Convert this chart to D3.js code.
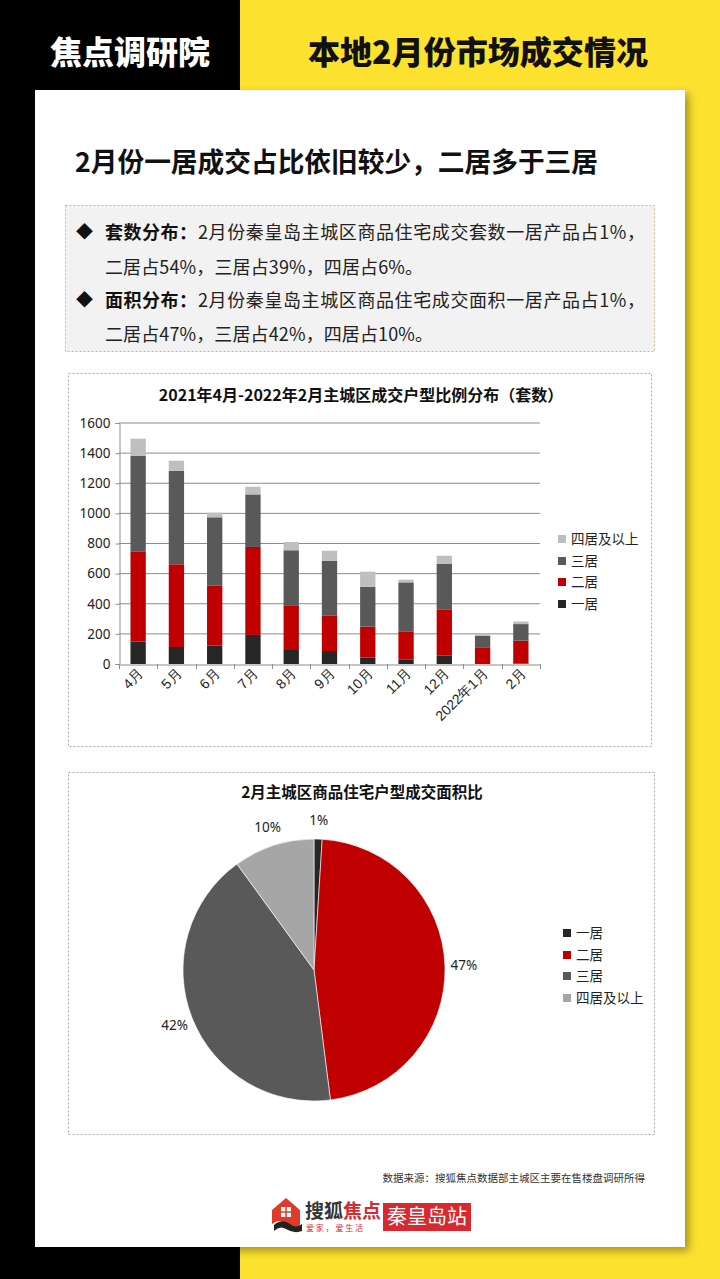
<!DOCTYPE html>
<html><head><meta charset="utf-8">
<script src="https://cdn.jsdelivr.net/npm/d3@7"></script>
<style>
html,body{margin:0;padding:0;background:#fff;}
svg{display:block;font-family:"Noto Sans CJK SC","Noto Sans",sans-serif;}
</style></head>
<body>
<svg id="c" width="720" height="1279"></svg>
<script>
// ---- data ----
const months = ["4月","5月","6月","7月","8月","9月","10月","11月","12月","2022年1月","2月"];
const seriesNames = ["一居","二居","三居","四居及以上"];
const oneRoom   = [150,113,122,193,93,86,42,31,55,0,3];
const twoRoom   = [598,549,400,584,297,237,206,186,308,111,152];
const threeRoom = [635,621,452,349,365,363,265,325,303,77,110];
const fourRoom  = [113,67,31,51,55,66,100,18,53,9,17];
const yTicks = [0,200,400,600,800,1000,1200,1400,1600];
const pieLabels = ["一居","二居","三居","四居及以上"];
const pieValues = [1,47,42,10];
const barColors = ["#262626","#c00000","#595959","#bfbfbf"];
const pieColors = ["#262626","#c00000","#595959","#a6a6a6"];

const svg = d3.select("#c");
const YEL = "#fde12f";

// ---- background frame ----
svg.append("rect").attr("x",0).attr("y",0).attr("width",720).attr("height",1279).attr("fill",YEL);
svg.append("rect").attr("x",0).attr("y",0).attr("width",240).attr("height",1279).attr("fill","#000");
svg.append("rect").attr("x",0).attr("y",0).attr("width",720).attr("height",90).attr("fill",YEL);
svg.append("rect").attr("x",0).attr("y",0).attr("width",240).attr("height",90).attr("fill","#000");
// card shadow
const defs = svg.append("defs");
const f = defs.append("filter").attr("id","sh").attr("x","-5%").attr("y","-5%").attr("width","115%").attr("height","115%");
f.append("feGaussianBlur").attr("in","SourceAlpha").attr("stdDeviation",4);
f.append("feOffset").attr("dx",4).attr("dy",4).attr("result","o");
f.append("feComponentTransfer").append("feFuncA").attr("type","linear").attr("slope",0.35);
const fm = f.append("feMerge"); fm.append("feMergeNode"); fm.append("feMergeNode").attr("in","SourceGraphic");
svg.append("rect").attr("x",35).attr("y",90).attr("width",650).attr("height",1157).attr("fill","#fff").attr("filter","url(#sh)");

// header texts
svg.append("text").attr("x",50).attr("y",64).attr("font-size",32).attr("font-weight",900).attr("fill","#fff")
  .attr("textLength",160).attr("lengthAdjust","spacingAndGlyphs").text("焦点调研院");
svg.append("text").attr("x",308).attr("y",64).attr("font-size",32).attr("font-weight",900).attr("fill","#111")
  .attr("textLength",340).attr("lengthAdjust","spacingAndGlyphs").text("本地2月份市场成交情况");

// card title
svg.append("text").attr("x",75).attr("y",172).attr("font-size",27).attr("font-weight",700).attr("fill","#111")
  .attr("textLength",523).attr("lengthAdjust","spacingAndGlyphs").text("2月份一居成交占比依旧较少，二居多于三居");

// summary box
svg.append("rect").attr("x",65.5).attr("y",205.5).attr("width",589).attr("height",146).attr("fill","#f2f2f2")
  .attr("stroke","#d8b48e").attr("stroke-dasharray","2,2");
const lines = [
  {y:239, bullet:true, b:"套数分布：", t:"2月份秦皇岛主城区商品住宅成交套数一居产品占1%，", len:447},
  {y:274, bullet:false, b:"", t:"二居占54%，三居占39%，四居占6%。", len:318},
  {y:307, bullet:true, b:"面积分布：", t:"2月份秦皇岛主城区商品住宅成交面积一居产品占1%，", len:447},
  {y:341, bullet:false, b:"", t:"二居占47%，三居占42%，四居占10%。", len:328}
];
lines.forEach(l=>{
  if(l.bullet) svg.append("text").attr("x",76).attr("y",l.y-1).attr("font-size",17).attr("fill","#111").text("◆");
  if(l.b){
    svg.append("text").attr("x",105).attr("y",l.y).attr("font-size",18).attr("font-weight",700).attr("fill","#111")
      .attr("textLength",92).attr("lengthAdjust","spacing").text(l.b);
    svg.append("text").attr("x",198).attr("y",l.y).attr("font-size",18).attr("fill","#222")
      .attr("textLength",l.len).attr("lengthAdjust","spacing").text(l.t);
  } else {
    svg.append("text").attr("x",105).attr("y",l.y).attr("font-size",18).attr("fill","#222")
      .attr("textLength",l.len).attr("lengthAdjust","spacing").text(l.t);
  }
});

// ---- bar chart ----
svg.append("rect").attr("x",68.5).attr("y",373.5).attr("width",583).attr("height",373).attr("fill","#fff")
  .attr("stroke","#a6a6a6").attr("stroke-dasharray","2,2");
svg.append("text").attr("x",361).attr("y",401).attr("text-anchor","middle").attr("font-size",16).attr("font-weight",700)
  .attr("fill","#111").text("2021年4月-2022年2月主城区成交户型比例分布（套数）");

const x = d3.scaleBand().domain(months).range([119,540]).padding(0);
const y = d3.scaleLinear().domain([0,1600]).range([664,423]);
const g = svg.append("g");
// gridlines
g.selectAll("line.grid").data(yTicks.filter(v=>v>0)).join("line")
  .attr("x1",119).attr("x2",540).attr("y1",d=>y(d)).attr("y2",d=>y(d)).attr("stroke","#8c8c8c").attr("stroke-width",1);
// stacks
const rows = months.map((m,i)=>({m, "一居":oneRoom[i], "二居":twoRoom[i], "三居":threeRoom[i], "四居及以上":fourRoom[i]}));
const stack = d3.stack().keys(seriesNames)(rows);
const bw = x.bandwidth()*0.4;
stack.forEach((s,si)=>{
  g.append("g").selectAll("rect").data(s).join("rect")
    .attr("x",d=>x(d.data.m)+(x.bandwidth()-bw)/2).attr("width",bw)
    .attr("y",d=>y(d[1])).attr("height",d=>Math.max(0,y(d[0])-y(d[1])))
    .attr("fill",barColors[si]);
});
// y axis
const ya = d3.axisLeft(y).tickValues(yTicks).tickSize(4).tickPadding(5).tickFormat(d3.format("d"));
const yg = svg.append("g").attr("transform","translate(119.5,0)").call(ya);
yg.select(".domain").attr("stroke","#8c8c8c");
yg.selectAll(".tick line").attr("stroke","#8c8c8c");
yg.selectAll("text").attr("font-size",13.5).attr("fill","#222").attr("font-family","'Noto Sans',sans-serif");
// x axis
const xa = d3.axisBottom(x).tickSize(0).tickPadding(0);
const xg = svg.append("g").attr("transform","translate(0,664.5)").call(xa);
xg.select(".domain").attr("stroke","#8c8c8c");
xg.selectAll("text").attr("font-size",14).attr("fill","#222").attr("text-anchor","end")
  .attr("dy",0).attr("transform","translate(6,10) rotate(-45)");
// category boundary ticks
const bounds = months.map(m=>x(m)).concat([x(months[months.length-1])+x.bandwidth()]);
svg.append("g").selectAll("line").data(bounds).join("line")
  .attr("x1",d=>Math.round(d)+0.5).attr("x2",d=>Math.round(d)+0.5).attr("y1",664).attr("y2",669).attr("stroke","#8c8c8c");
// legend
const legB = ["四居及以上","三居","二居","一居"];
const legY = [539,561,582,604];
legB.forEach((n,i)=>{
  const ci = seriesNames.indexOf(n);
  svg.append("rect").attr("x",558).attr("y",legY[i]-4).attr("width",8).attr("height",8).attr("fill",barColors[ci]);
  svg.append("text").attr("x",571).attr("y",legY[i]+5).attr("font-size",13.5).attr("fill","#222").text(n);
});

// ---- pie chart ----
svg.append("rect").attr("x",68.5).attr("y",772.5).attr("width",586).attr("height",362).attr("fill","#fff")
  .attr("stroke","#a6a6a6").attr("stroke-dasharray","2,2");
svg.append("text").attr("x",362).attr("y",798).attr("text-anchor","middle").attr("font-size",15.5).attr("font-weight",700)
  .attr("fill","#111").text("2月主城区商品住宅户型成交面积比");
const cx=314, cy=970, r=131;
const pie = d3.pie().sort(null).value(d=>d)(pieValues);
const arc = d3.arc().innerRadius(0).outerRadius(r);
const lab = d3.arc().innerRadius(150).outerRadius(150);
const pg = svg.append("g").attr("transform",`translate(${cx},${cy})`);
pg.selectAll("path").data(pie).join("path").attr("d",arc).attr("fill",(d,i)=>pieColors[i])
  .attr("stroke","#fff").attr("stroke-width",0.6);
pg.selectAll("text").data(pie).join("text")
  .attr("transform",d=>`translate(${lab.centroid(d)})`).attr("text-anchor","middle").attr("dy","0.35em")
  .attr("font-size",13.5).attr("fill","#222").attr("font-family","'Noto Sans',sans-serif")
  .text(d=>d.data+"%");
const legP = [933,955,976,998];
pieLabels.forEach((n,i)=>{
  svg.append("rect").attr("x",563).attr("y",legP[i]-4).attr("width",8).attr("height",8).attr("fill",pieColors[i]);
  svg.append("text").attr("x",576).attr("y",legP[i]+5).attr("font-size",13.5).attr("fill","#222").text(n);
});

// ---- footer ----
svg.append("text").attr("x",645).attr("y",1182).attr("text-anchor","end").attr("font-size",10.5).attr("fill","#333")
  .text("数据来源：搜狐焦点数据部主城区主要在售楼盘调研所得");
// logo house
const lg = svg.append("g").attr("transform","translate(272,1198)");
lg.append("path").attr("d","M14,0 L28,12 L28,28 Q20,32 14,26 Q8,20 0,26 L0,12 Z").attr("fill","#e03a2a");
lg.append("path").attr("d","M2,27 Q10,20 18,26 Q24,31 30,26 L30,33 Q22,36 14,31 Q8,27 2,33 Z").attr("fill","#222");
lg.append("rect").attr("x",9).attr("y",9).attr("width",10).attr("height",10).attr("fill","#fff");
lg.append("line").attr("x1",14).attr("x2",14).attr("y1",9).attr("y2",19).attr("stroke","#e03a2a").attr("stroke-width",1.5);
lg.append("line").attr("x1",9).attr("x2",19).attr("y1",14).attr("y2",14).attr("stroke","#e03a2a").attr("stroke-width",1.5);
const lt = svg.append("text").attr("x",305).attr("y",1218).attr("font-size",19).attr("font-weight",700);
lt.append("tspan").attr("fill","#333").text("搜狐");
lt.append("tspan").attr("fill","#d9282f").text("焦点");
svg.append("text").attr("x",306).attr("y",1231).attr("font-size",8).attr("fill","#d9282f").text("爱 家 ， 爱 生 活");
svg.append("rect").attr("x",383).attr("y",1203).attr("width",88).attr("height",28).attr("fill","#d9282f");
svg.append("text").attr("x",427).attr("y",1224).attr("text-anchor","middle").attr("font-size",20).attr("fill","#fff").text("秦皇岛站");
</script>
</body></html>
